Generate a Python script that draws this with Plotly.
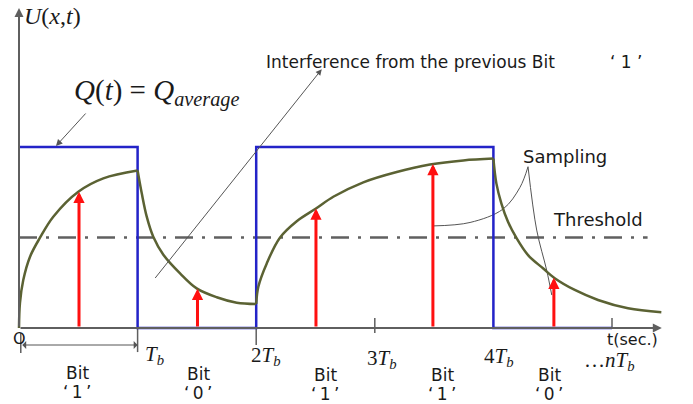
import plotly.graph_objects as go

# time in units of Tb, signal normalised so that Q_average = 1
bits = [1, 0, 1, 1, 0]
bit_edges = [0, 1, 2, 3, 4, 5]
threshold = 0.5

# received signal U(x,t), one smooth piece per transition
seg1_t = [0, 0.008, 0.036, 0.093, 0.177, 0.289, 0.5, 0.711, 1.0]
seg1_u = [0, 0.138, 0.265, 0.394, 0.499, 0.615, 0.753, 0.827, 0.87]
seg2_t = [1.0, 1.035, 1.077, 1.132, 1.217, 1.358, 1.498, 1.667, 1.836, 2.0]
seg2_u = [0.87, 0.744, 0.615, 0.504, 0.405, 0.302, 0.219, 0.17, 0.14, 0.133]
seg3_t = [2.0, 2.018, 2.089, 2.2, 2.342, 2.504, 2.65, 2.903, 3.185, 3.465, 3.746, 4.0]
seg3_u = [0.133, 0.228, 0.357, 0.499, 0.59, 0.66, 0.725, 0.805, 0.862, 0.903, 0.926, 0.936]
seg4_t = [4.0, 4.025, 4.067, 4.123, 4.193, 4.292, 4.418, 4.517, 4.686, 4.882, 5.135, 5.416]
seg4_u = [0.936, 0.799, 0.689, 0.587, 0.499, 0.403, 0.33, 0.275, 0.21, 0.155, 0.109, 0.087]

# sampling instants and sampled values
sample_t = [0.506, 1.505, 2.504, 3.49, 4.51]
sample_u = [0.753, 0.217, 0.66, 0.906, 0.278]

# callout lines for "Sampling"
samp_arc_t = [4.292, 4.224, 4.081, 3.803, 3.491]
samp_arc_u = [0.891, 0.777, 0.657, 0.583, 0.564]
samp_line_t = [4.292, 4.365, 4.449, 4.492]
samp_line_u = [0.891, 0.541, 0.32, 0.182]

tick_labels = ["<i>T</i><sub><i>b</i></sub>", "2<i>T</i><sub><i>b</i></sub>",
               "3<i>T</i><sub><i>b</i></sub>", "4<i>T</i><sub><i>b</i></sub>",
               "…<i>nT</i><sub><i>b</i></sub>"]
bit_names = ["‘\u20091\u2009’", "‘\u20090\u2009’", "‘\u20091\u2009’", "‘\u20091\u2009’", "‘\u20090\u2009’"]

# pixel -> data helpers for a 693x404 canvas (origin at px 19, 328)
PX_T = 118.6
PX_U = 181.0


def tx(px):
    return (px - 19) / PX_T


def uy(py):
    return (328 - py) / PX_U


fig = go.Figure()

SERIF = "Liberation Serif"
SANS = "DejaVu Sans"
GRAY = "#5f5f5f"

# threshold
fig.add_trace(go.Scatter(x=[0, 5.3], y=[threshold, threshold], mode="lines",
                         line=dict(color="#606060", width=2.5, dash="18px,9px,3px,9px")))

# tick marks
tick_x, tick_y = [], []
for t, lo, hi in [(1, -0.133, 0), (2, -0.094, 0), (3, -0.028, 0.055), (5, 0, 0.055), (0.015, -0.138, -0.028)]:
    tick_x += [t, t, None]
    tick_y += [lo, hi, None]
fig.add_trace(go.Scatter(x=tick_x, y=tick_y, mode="lines", line=dict(color=GRAY, width=1.5)))

# sampling callout lines
fig.add_trace(go.Scatter(x=samp_arc_t, y=samp_arc_u, mode="lines", line_shape="spline",
                         line=dict(color="#555555", width=1)))
fig.add_trace(go.Scatter(x=samp_line_t, y=samp_line_u, mode="lines", line_shape="spline",
                         line=dict(color="#555555", width=1)))

# square wave Q(t)
fig.add_trace(go.Scatter(x=bit_edges, y=bits + [bits[-1]], mode="lines", line_shape="hv",
                         line=dict(color="#2323c8", width=2.5)))

# received signal
for st, su in [(seg1_t, seg1_u), (seg2_t, seg2_u), (seg3_t, seg3_u), (seg4_t, seg4_u)]:
    fig.add_trace(go.Scatter(x=st, y=su, mode="lines", line_shape="spline",
                             line=dict(color="#5b6233", width=2.5)))

ann = []

# axes with arrows
ann.append(dict(x=5.42, y=0, ax=0, ay=0, axref="x", ayref="y", xref="x", yref="y", text="",
                showarrow=True, arrowhead=2, arrowsize=0.9, arrowwidth=2, arrowcolor=GRAY))
ann.append(dict(x=0, y=1.768, ax=0, ay=0, axref="x", ayref="y", xref="x", yref="y", text="",
                showarrow=True, arrowhead=2, arrowsize=0.9, arrowwidth=2, arrowcolor=GRAY))

# sampling arrows
for t, u in zip(sample_t, sample_u):
    ann.append(dict(x=t, y=u, ax=t, ay=0, axref="x", ayref="y", xref="x", yref="y", text="",
                    showarrow=True, arrowhead=2, arrowsize=0.75, arrowwidth=3, arrowcolor="#ff1010"))

# Tb span double arrow
ann.append(dict(x=1.0, y=-0.094, ax=0.015, ay=-0.094, axref="x", ayref="y", xref="x", yref="y",
                text="", showarrow=True, arrowside="end+start", arrowhead=1, startarrowhead=1,
                arrowsize=1.3, startarrowsize=1.3, arrowwidth=1, arrowcolor="#555555"))

# Q(t) pointer
ann.append(dict(x=tx(56), y=uy(146), ax=tx(87), ay=uy(112), axref="x", ayref="y", xref="x", yref="y",
                text="", showarrow=True, arrowhead=2, arrowsize=1.3, arrowwidth=1, arrowcolor="#555555"))

# interference pointer
ann.append(dict(x=tx(321.7), y=uy(69.3), ax=tx(154), ay=uy(279.5), axref="x", ayref="y", xref="x",
                yref="y", text="", showarrow=True, arrowhead=2, arrowsize=1.2, arrowwidth=1,
                arrowcolor="#555555"))


def label(px, py, text, family=SANS, size=18, anchor="center"):
    ann.append(dict(x=tx(px), y=uy(py), xref="x", yref="y", text=text, showarrow=False,
                    xanchor=anchor, yanchor="middle", font=dict(family=family, size=size, color="#1a1a1a")))


label(22, 16, "<i>U</i>(<i>x</i>,<i>t</i>)", SERIF, 24, "left")
label(72, 92, "<i>Q</i>(<i>t</i>) = <i>Q</i><sub><i>average</i></sub>", SERIF, 29, "left")
label(264, 62, "Interference from the previous Bit", SANS, 17, "left")
label(608, 62, "‘ 1 ’", SANS, 17, "left")
label(521, 156, "Sampling", SANS, 18, "left")
label(551, 219, "Threshold", SANS, 18, "left")
label(19, 338, "O", SANS, 16)
label(605, 339, "t(sec.)", SANS, 16, "left")

tick_px = [143, 249, 365, 482, 582]
tick_py = [355, 356, 359, 357, 361]
for px, py, txt in zip(tick_px, tick_py, tick_labels):
    label(px, py, txt, SERIF, 21, "left")

bit_px = [77, 198, 325, 442, 549]
bit_py = [373, 374, 375, 375, 375]
for px, py, name in zip(bit_px, bit_py, bit_names):
    label(px, py, "Bit", SANS, 17)
    label(px, py + 19, name, SANS, 17)

fig.update_layout(
    width=693, height=404,
    margin=dict(l=0, r=0, t=0, b=0),
    paper_bgcolor="white", plot_bgcolor="white",
    showlegend=False,
    annotations=ann,
    xaxis=dict(range=[tx(0), tx(693)], visible=False, fixedrange=True),
    yaxis=dict(range=[uy(404), uy(0)], visible=False, fixedrange=True),
)

# drop the default page margin so the figure sits at the window's corner
fig.write_html("out.html", config={"displayModeBar": False},
               post_script="document.body.style.margin='0';")
